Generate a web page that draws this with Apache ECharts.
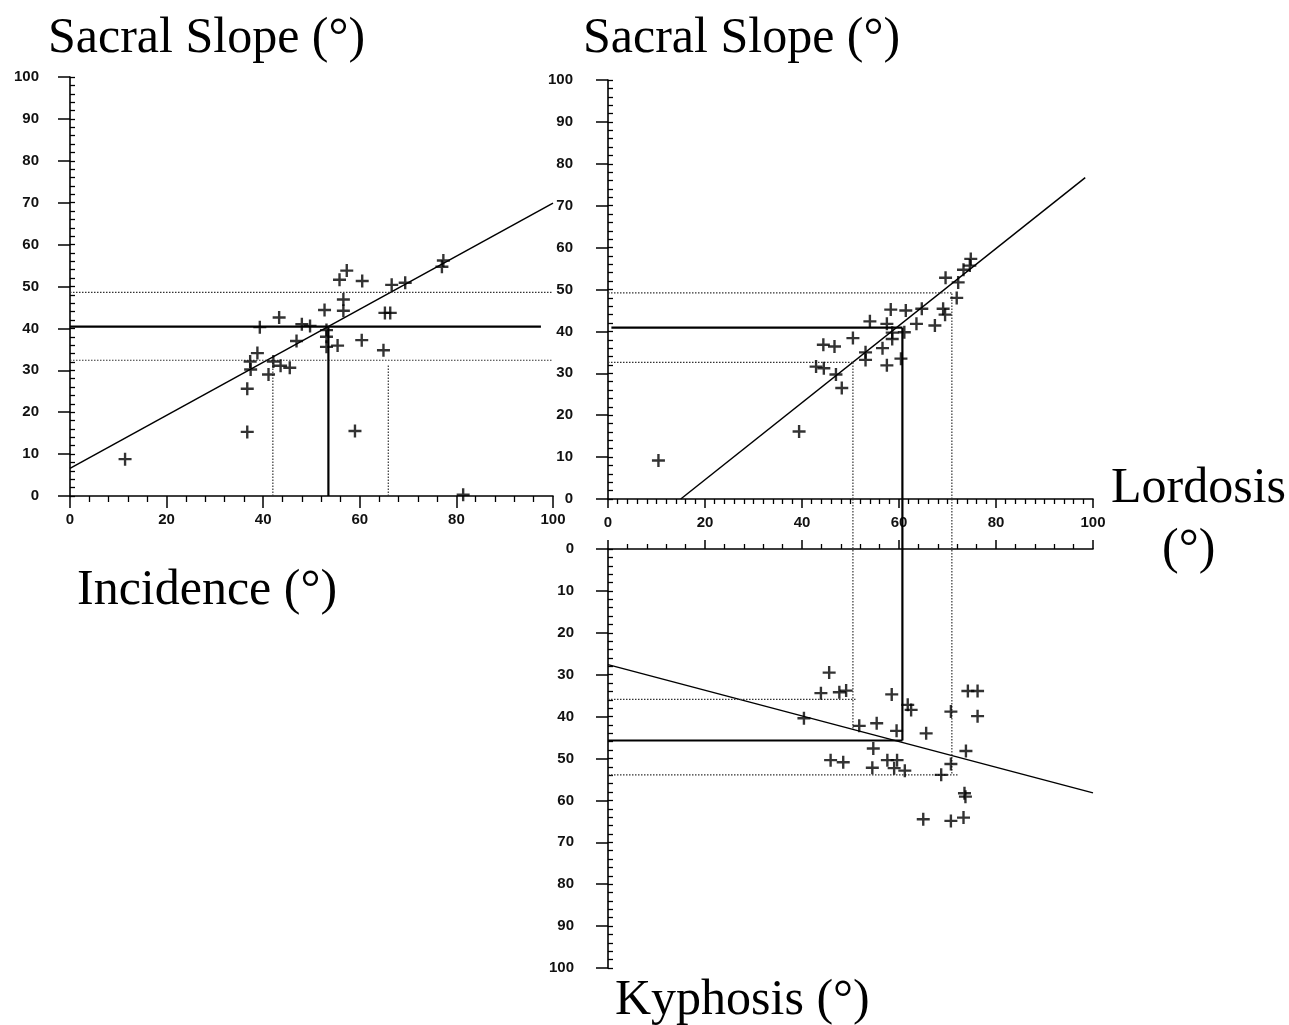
<!DOCTYPE html>
<html><head><meta charset="utf-8">
<script src="https://cdn.jsdelivr.net/npm/echarts@6/dist/echarts.min.js"></script>
<style>html,body{margin:0;padding:0;background:#fff}#c{width:1289px;height:1025px}</style>
</head><body><div id="c"></div><script>
// ---------- DATA ----------
// Panel A: Incidence (x) vs Sacral Slope (y)
const incidence    = [11.4, 36.7, 59.0, 36.7, 38.8, 37.3, 37.4, 41.1, 42.1, 43.6, 45.5, 39.3, 43.3, 46.9, 48.0, 49.7, 52.7, 53.1, 53.1, 53.1, 55.4, 55.8, 57.3, 56.6, 56.6, 60.5, 60.4, 64.9, 65.2, 66.3, 66.6, 69.4, 77.3, 77.0, 81.4];
const sacralSlopeA = [8.8, 15.3, 15.5, 25.6, 34.1, 32.1, 30.2, 29.0, 32.1, 31.1, 30.6, 40.3, 42.6, 37.0, 41.0, 40.6, 44.4, 39.6, 38.0, 35.6, 35.9, 51.6, 53.8, 46.9, 44.2, 51.3, 37.2, 34.8, 43.7, 43.7, 50.4, 50.9, 56.2, 54.7, 0.3];
// Panel B: Lordosis (x) vs Sacral Slope (y)
const lordosisB    = [10.4, 39.4, 48.2, 42.9, 44.5, 47.0, 44.4, 46.7, 50.5, 54.0, 53.1, 53.1, 56.6, 57.5, 57.5, 58.3, 58.6, 58.6, 61.1, 60.4, 61.4, 63.6, 64.7, 67.4, 69.1, 69.5, 69.6, 71.9, 72.2, 73.3, 74.8, 74.6];
const sacralSlopeB = [9.2, 16.1, 26.5, 31.6, 31.2, 29.7, 36.8, 36.4, 38.4, 42.4, 35.0, 33.2, 36.0, 31.9, 41.8, 45.2, 38.2, 39.7, 39.8, 33.5, 45.0, 41.8, 45.4, 41.4, 45.4, 44.0, 52.8, 48.0, 51.7, 54.7, 57.3, 55.7];
// Panel C: Lordosis (x) vs Kyphosis (y, downward)
const lordosisC = [45.6, 43.9, 47.7, 49.1, 40.4, 51.8, 55.4, 58.5, 59.5, 61.8, 62.5, 65.6, 54.7, 45.9, 48.5, 54.5, 57.6, 59.6, 59.0, 61.2, 70.7, 74.2, 76.2, 76.2, 73.8, 70.7, 68.7, 73.5, 73.7, 65.0, 70.7, 73.3];
const kyphosis  = [29.5, 34.4, 34.2, 33.8, 40.4, 42.2, 41.6, 34.7, 43.4, 37.2, 38.4, 44.0, 47.6, 50.4, 50.9, 52.2, 50.4, 50.4, 52.3, 52.9, 38.8, 33.9, 33.9, 39.9, 48.2, 51.3, 53.9, 58.3, 59.1, 64.5, 64.9, 64.1];
// Regression line end points
const regA = [[0, 6.6], [100, 69.9]];
const regB = [[15.0, 0], [98.4, 76.7]];
const regC = [[0, 27.6], [100, 58.2]];
// [mean - SD, mean, mean + SD]
const incStats  = [42.0, 53.5, 65.9];
const ssStatsA  = [32.4, 40.4, 48.6];
const lordStats = [50.5, 60.7, 70.9];
const ssStatsB  = [32.6, 40.9, 49.2];
const kyphStats = [35.9, 45.7, 53.9];
// Tick label values
const tickValsX = [0, 20, 40, 60, 80, 100];
const tickValsY = [0, 10, 20, 30, 40, 50, 60, 70, 80, 90, 100];
// Titles
const titles = {ssA: 'Sacral Slope (°)', ssB: 'Sacral Slope (°)', inc: 'Incidence (°)', lord: 'Lordosis', lordUnit: '(°)', kyph: 'Kyphosis (°)'};

// ---------- LAYOUT ----------
const G = [
  {left: 70,  top: 77,  width: 483, height: 419},
  {left: 608, top: 80,  width: 485, height: 419},
  {left: 608, top: 549, width: 485, height: 419}
];
const gapUnits = (G[2].top - (G[1].top + G[1].height)) / (G[2].height / 100);

const zip = (a, b) => a.map((v, i) => [v, b[i]]);
const CROSS = 'path://M4.9,0H7.1V12H4.9Z M0,4.9H12V7.1H0Z';
const labelStyle = {color: '#111', fontFamily: 'Liberation Sans', fontSize: 15, fontWeight: 'bold'};
const axLine = {show: true, lineStyle: {color: '#000', width: 1.6}};

const grids = G.concat(G).map(g => Object.assign({containLabel: false}, g));

const xAxes = [
  {gridIndex: 0, type: 'value', min: 0, max: 100, interval: 20, position: 'bottom',
   axisLine: axLine, axisTick: {length: 12, lineStyle: {color: '#000', width: 1.5}},
   minorTick: {show: true, splitNumber: 5, length: 6, lineStyle: {color: '#000', width: 1.3}},
   axisLabel: Object.assign({margin: 16, formatter: v => tickValsX.includes(v) ? String(v) : ''}, labelStyle), splitLine: {show: false}},
  {gridIndex: 1, type: 'value', min: 0, max: 100, interval: 20, position: 'bottom',
   axisLine: axLine, axisTick: {length: 9, lineStyle: {color: '#000', width: 1.5}},
   minorTick: {show: true, splitNumber: 10, length: 5, lineStyle: {color: '#000', width: 1.3}},
   axisLabel: Object.assign({margin: 16, formatter: v => tickValsX.includes(v) ? String(v) : ''}, labelStyle), splitLine: {show: false}},
  {gridIndex: 2, type: 'value', min: 0, max: 100, interval: 20, position: 'top',
   axisLine: axLine, axisTick: {length: 9, lineStyle: {color: '#000', width: 1.5}},
   minorTick: {show: true, splitNumber: 5, length: 5, lineStyle: {color: '#000', width: 1.3}},
   axisLabel: {show: false}, splitLine: {show: false}},
  {gridIndex: 3, type: 'value', min: 0, max: 100, show: false},
  {gridIndex: 4, type: 'value', min: 0, max: 100, show: false},
  {gridIndex: 5, type: 'value', min: 0, max: 100, show: false}
];
function mainY(gi, margin, inverse) {
  return {gridIndex: gi, type: 'value', min: 0, max: 100, interval: 10, inverse: !!inverse,
    axisLine: axLine, axisTick: {length: 12, lineStyle: {color: '#000', width: 1.5}},
    axisLabel: Object.assign({margin: margin, formatter: v => tickValsY.includes(v) ? String(v) : ''}, labelStyle),
    splitLine: {show: false}};
}
function minorY(gi, inverse) {
  return {gridIndex: gi, type: 'value', min: 0, max: 100, interval: 2, inverse: !!inverse,
    axisLine: {show: false}, axisTick: {show: true, inside: true, length: 5, lineStyle: {color: '#000', width: 1.3}},
    axisLabel: {show: false}, splitLine: {show: false}};
}
const yAxes = [mainY(0, 31), mainY(1, 35), mainY(2, 34, true), minorY(3), minorY(4), minorY(5, true)];

const series = [];
function scatter(ai, data) {
  series.push({type: 'scatter', xAxisIndex: ai, yAxisIndex: ai, data: data, symbol: CROSS, symbolSize: 13,
    itemStyle: {color: '#000'}, silent: true, z: 5});
}
function seg(ai, data, kind, clip) {
  const styles = {
    reg:   {color: '#000', width: 1.5, type: 'solid'},
    mean:  {color: '#000', width: 2.2, type: 'solid'},
    sd:    {color: '#333', width: 1.2, type: [1.5, 1.5]}
  };
  series.push({type: 'line', xAxisIndex: ai, yAxisIndex: ai, data: data, symbol: 'none', silent: true,
    clip: clip !== false, lineStyle: styles[kind], z: 3, animation: false});
}

// Panel A
scatter(0, zip(incidence, sacralSlopeA));
seg(0, regA, 'reg');
seg(0, [[0, ssStatsA[1]], [97.5, ssStatsA[1]]], 'mean');
seg(0, [[0, ssStatsA[0]], [100, ssStatsA[0]]], 'sd');
seg(0, [[0, ssStatsA[2]], [100, ssStatsA[2]]], 'sd');
seg(0, [[incStats[1], 0], [incStats[1], ssStatsA[1]]], 'mean');
seg(0, [[incStats[0], 0], [incStats[0], ssStatsA[0]]], 'sd');
seg(0, [[incStats[2], 0], [incStats[2], ssStatsA[0] - 1]], 'sd');

// Panel B
scatter(1, zip(lordosisB, sacralSlopeB));
seg(1, regB, 'reg');
seg(1, [[0.7, ssStatsB[1]], [lordStats[1], ssStatsB[1]]], 'mean');
seg(1, [[0, ssStatsB[0]], [lordStats[0], ssStatsB[0]]], 'sd');
seg(1, [[0, ssStatsB[2]], [lordStats[2], ssStatsB[2]]], 'sd');
seg(1, [[lordStats[1], 0], [lordStats[1], ssStatsB[1]]], 'mean');
seg(1, [[lordStats[0], 0], [lordStats[0], ssStatsB[0]]], 'sd');
seg(1, [[lordStats[2], 0], [lordStats[2], ssStatsB[2]]], 'sd');

// Panel C
scatter(2, zip(lordosisC, kyphosis));
seg(2, regC, 'reg');
seg(2, [[0, kyphStats[1]], [lordStats[1], kyphStats[1]]], 'mean');
seg(2, [[0, kyphStats[0]], [lordStats[0] + 0.8, kyphStats[0]]], 'sd');
seg(2, [[0, kyphStats[2]], [lordStats[2] + 1.3, kyphStats[2]]], 'sd');
// verticals continuing from panel B through the gap
seg(2, [[lordStats[1], -gapUnits], [lordStats[1], kyphStats[1]]], 'mean', false);
seg(2, [[lordStats[0], -gapUnits], [lordStats[0], regC[0][1] + (regC[1][1] - regC[0][1]) * lordStats[0] / 100]], 'sd', false);
seg(2, [[lordStats[2], -gapUnits], [lordStats[2], kyphStats[2]]], 'sd', false);

const serif = '50px "Liberation Serif", "Times New Roman", serif';
function title(text, x, y) {
  return {type: 'text', x: x, y: y, silent: true, style: {text: text, font: serif, fill: '#000', align: 'left', verticalAlign: 'middle'}};
}

const chart = echarts.init(document.getElementById('c'), null, {renderer: 'canvas'});
chart.setOption({
  backgroundColor: '#fff',
  animation: false,
  grid: grids,
  xAxis: xAxes,
  yAxis: yAxes,
  series: series,
  graphic: [
    title(titles.ssA, 48, 39),
    title(titles.ssB, 583, 39),
    title(titles.inc, 77, 591),
    title(titles.lord, 1111, 489),
    title(titles.lordUnit, 1162, 550),
    title(titles.kyph, 615, 1001)
  ]
});
</script></body></html>
